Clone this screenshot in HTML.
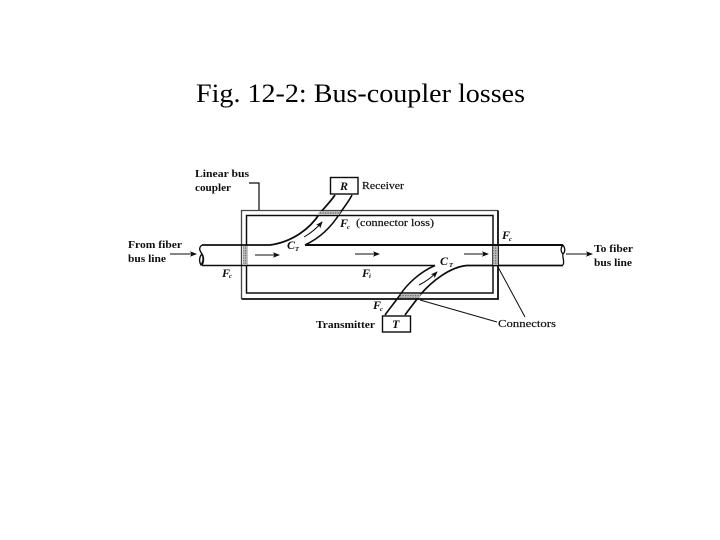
<!DOCTYPE html>
<html>
<head>
<meta charset="utf-8">
<style>
html,body{margin:0;padding:0;background:#fff;width:720px;height:540px;overflow:hidden}
svg{display:block}
text{fill:#111;font-family:"Liberation Serif",serif}
.b{font-size:11px;font-weight:bold}
.n{font-size:11px;font-weight:normal;stroke:#111;stroke-width:0.2}
.i{font-style:italic;font-weight:bold;font-size:12px}
.s{font-style:italic;font-size:6.5px;font-weight:bold}
</style>
</head>
<body>
<svg width="720" height="540" viewBox="0 0 720 540" xmlns="http://www.w3.org/2000/svg">
<defs>
<pattern id="h" width="2.5" height="2.5" patternUnits="userSpaceOnUse">
<rect width="2.5" height="2.5" fill="#bbb"/><rect width="1.2" height="1.2" fill="#666"/>
</pattern>
<marker id="a" markerWidth="7" markerHeight="6" refX="6" refY="3" orient="auto" markerUnits="userSpaceOnUse">
<path d="M0,0.3 L7,3 L0,5.700 L1.500,3 Z" fill="#111"/>
</marker>
<filter id="soft" filterUnits="userSpaceOnUse" x="0" y="0" width="720" height="540"><feGaussianBlur stdDeviation="0.3"/></filter>
</defs>
<text x="196" y="102" font-size="26.5" textLength="329" lengthAdjust="spacingAndGlyphs" style="fill:#000">Fig. 12-2: Bus-coupler losses</text>

<g filter="url(#soft)">
<g fill="none" stroke="#111">
<path d="M241.500,299 V210.500 H498" stroke-width="1.300" stroke="#444"/>
<path d="M241.500,299 H498 V210.500" stroke-width="1.800"/>
<rect x="246.500" y="215.500" width="246.500" height="77.500" stroke-width="1.500"/>
<path d="M202,245 H270 C292,242 310,229 320,213 C326,206 331,201 335,195" stroke-width="1.800"/>
<path d="M305,245 H563" stroke-width="2.100"/>
<path d="M305,245 C320,238 332,226 340,213 C345,206 349,201 352,195" stroke-width="1.600"/>
<path d="M202,265.500 H435" stroke-width="1.500"/>
<path d="M435,265.500 C420,272 407,284 400,295 C395,302 390,308 385,315" stroke-width="1.600"/>
<path d="M563,265.500 H467 C450,267 432,281 420,295 C415,302 410,308 405,315" stroke-width="1.700"/>
<path d="M202,245 C198,248 200,251 202,254 C204,258 203,262 201,265 C199,262 199,257 202,254 C204,257 204,262 202,265" stroke-width="1.400"/>
<path d="M563,245 C565,248 566,251 563,254 C560,251 561,247 563,245 M563,254 C562,258 565,261 563,265" stroke-width="1.300"/>
<path d="M259,210 V183 H249" stroke-width="1.200"/>
<path d="M498,267 L525,317 M420,300 L497,322" stroke-width="1"/>
<path d="M170,254 H196" stroke-width="1" marker-end="url(#a)"/>
<path d="M255,255 H279" stroke-width="1" marker-end="url(#a)"/>
<path d="M355,254 H379" stroke-width="1" marker-end="url(#a)"/>
<path d="M464,254 H488" stroke-width="1" marker-end="url(#a)"/>
<path d="M566,254 H592" stroke-width="1" marker-end="url(#a)"/>
<path d="M304,237 C311,233 317,228 322,222" stroke-width="1" marker-end="url(#a)"/>
<path d="M419,285 C425,282 432,277 437,272" stroke-width="1" marker-end="url(#a)"/>
</g>
<rect x="243" y="246" width="4" height="19" fill="url(#h)"/>
<rect x="493" y="246" width="5" height="19" fill="url(#h)"/>
<path d="M320,211 H341 L339,215 H317 Z" fill="url(#h)"/>
<path d="M401,294 H421 L419,298 H399 Z" fill="url(#h)"/>
<rect x="330.500" y="177.500" width="27.500" height="16.500" fill="#fff" stroke="#111" stroke-width="1.400"/>
<rect x="382.500" y="316" width="28" height="16" fill="#fff" stroke="#111" stroke-width="1.400"/>

<text class="i" x="340" y="190">R</text>
<text class="i" x="392" y="328">T</text>
<text class="n" x="362" y="189" textLength="42" lengthAdjust="spacingAndGlyphs">Receiver</text>
<text class="b" x="195" y="177" textLength="54" lengthAdjust="spacingAndGlyphs">Linear bus</text>
<text class="b" x="195" y="191" textLength="36" lengthAdjust="spacingAndGlyphs">coupler</text>
<text class="b" x="128" y="248" textLength="54" lengthAdjust="spacingAndGlyphs">From fiber</text>
<text class="b" x="128" y="262" textLength="38" lengthAdjust="spacingAndGlyphs">bus line</text>
<text class="b" x="594" y="252" textLength="39" lengthAdjust="spacingAndGlyphs">To fiber</text>
<text class="b" x="594" y="266" textLength="38" lengthAdjust="spacingAndGlyphs">bus line</text>
<text class="b" x="316" y="328" textLength="59" lengthAdjust="spacingAndGlyphs">Transmitter</text>
<text class="n" x="498" y="327" textLength="58" lengthAdjust="spacingAndGlyphs">Connectors</text>
<text class="n" x="356" y="226" textLength="78" lengthAdjust="spacingAndGlyphs">(connector loss)</text>

<text class="i" x="340" y="227">F</text><text class="s" x="347" y="229">c</text>
<text class="i" x="222" y="277">F</text><text class="s" x="229" y="278">c</text>
<text class="i" x="502" y="239">F</text><text class="s" x="509" y="241">c</text>
<text class="i" x="373" y="309">F</text><text class="s" x="380" y="311">c</text>
<text class="i" x="362" y="277">F</text><text class="s" x="369" y="278">i</text>
<text class="i" x="287" y="249">C</text><text class="s" x="295" y="251">T</text>
<text class="i" x="440" y="265">C</text><text class="s" x="449" y="267">T</text>
</g>
</svg>
</body>
</html>
